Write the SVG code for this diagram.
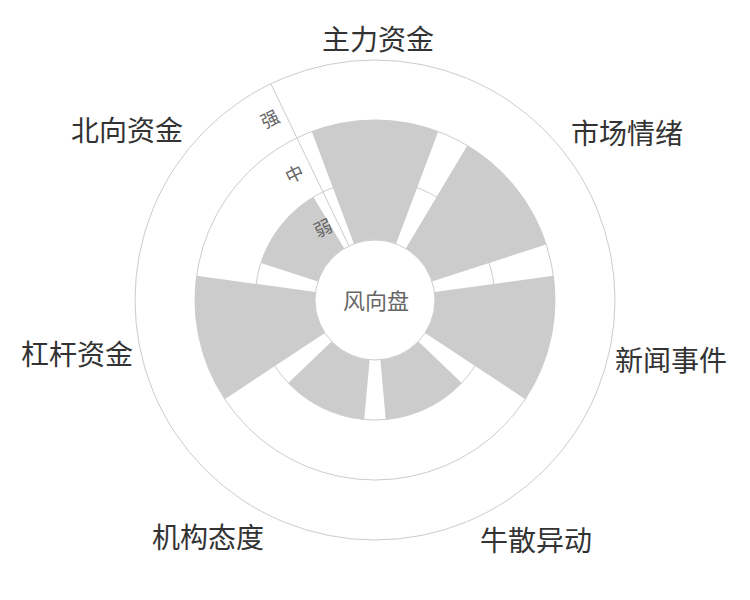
<svg xmlns="http://www.w3.org/2000/svg" width="750" height="600" viewBox="0 0 750 600">
  <style>
    .grid { fill: none; stroke: #cccccc; stroke-width: 1; }
    .bar { fill: #cccccc; stroke: none; }
    .cat { font-family: "Liberation Sans", "Noto Sans CJK SC", sans-serif; font-size: 28px; fill: #333333; text-anchor: middle; }
    .rlab { font-family: "Liberation Sans", "Noto Sans CJK SC", sans-serif; font-size: 18px; fill: #666666; text-anchor: middle; }
    .center { font-family: "Liberation Sans", "Noto Sans CJK SC", sans-serif; font-size: 22px; fill: #666666; text-anchor: middle; }
  </style>
  <rect x="0" y="0" width="750" height="600" fill="#ffffff"/>

  <g id="grid">
    <circle class="grid" cx="375" cy="300" r="60"/>
    <circle class="grid" cx="375" cy="300" r="120"/>
    <circle class="grid" cx="375" cy="300" r="180"/>
    <circle class="grid" cx="375" cy="300" r="240"/>
  </g>

  <g id="bars">
    <path id="bar-zhuli" class="bar" d="M311.76 131.47 A180 180 0 0 1 438.24 131.47 L396.08 243.82 A60 60 0 0 0 353.92 243.82 Z"/>
    <path id="bar-shichang" class="bar" d="M467.32 145.48 A180 180 0 0 1 546.19 244.38 L432.06 281.46 A60 60 0 0 0 405.77 248.49 Z"/>
    <path id="bar-xinwen" class="bar" d="M553.37 275.84 A180 180 0 0 1 525.22 399.16 L425.07 333.05 A60 60 0 0 0 434.46 291.95 Z"/>
    <path id="bar-niusan" class="bar" d="M461.73 382.93 A120 120 0 0 1 385.76 419.52 L380.38 359.76 A60 60 0 0 0 418.37 341.46 Z"/>
    <path id="bar-jigou" class="bar" d="M364.24 419.52 A120 120 0 0 1 288.27 382.93 L331.63 341.46 A60 60 0 0 0 369.62 359.76 Z"/>
    <path id="bar-ganggan" class="bar" d="M224.78 399.16 A180 180 0 0 1 196.63 275.84 L315.54 291.95 A60 60 0 0 0 324.93 333.05 Z"/>
    <path id="bar-beixiang" class="bar" d="M260.87 262.92 A120 120 0 0 1 313.45 196.99 L344.23 248.49 A60 60 0 0 0 317.94 281.46 Z"/>
  </g>

  <g id="radius-axis">
    <line class="grid" x1="348.97" y1="245.94" x2="270.87" y2="83.77"/>
    <text class="rlab" x="270" y="125.8" transform="rotate(-25.71 270 119)">强</text>
    <text class="rlab" x="294.5" y="180.8" transform="rotate(-25.71 294.5 174)">中</text>
    <text class="rlab" x="323" y="234.8" transform="rotate(-25.71 323 228)">弱</text>
  </g>

  <g id="labels">
    <text class="cat" x="378" y="49.6">主力资金</text>
    <text class="cat" x="627" y="144">市场情绪</text>
    <text class="cat" x="671" y="370.6">新闻事件</text>
    <text class="cat" x="536" y="551">牛散异动</text>
    <text class="cat" x="208" y="548">机构态度</text>
    <text class="cat" x="77" y="364.6">杠杆资金</text>
    <text class="cat" x="127" y="141">北向资金</text>
  </g>

  <g id="center-label">
    <text class="center" x="376" y="308.7">风向盘</text>
  </g>
</svg>
